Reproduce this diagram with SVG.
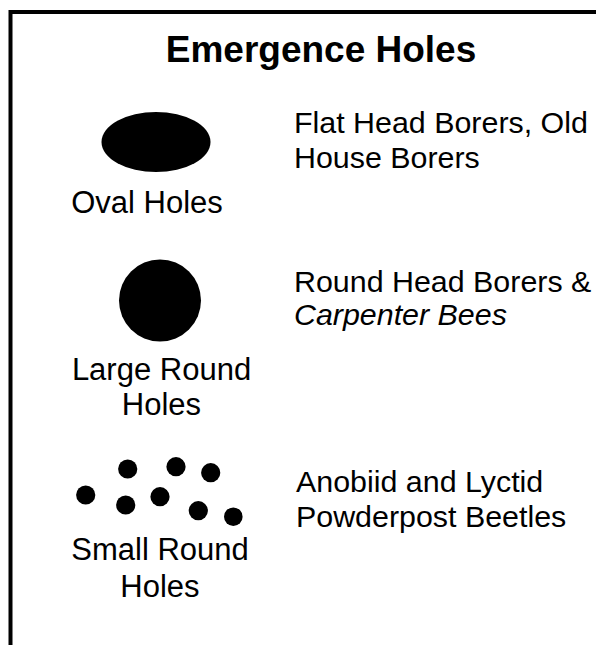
<svg xmlns="http://www.w3.org/2000/svg" width="596" height="645" viewBox="0 0 596 645">
<style>
text{font-family:"Liberation Sans",Arial,sans-serif;fill:#000}
.t{font-size:37px;font-weight:bold}
.b{font-size:30.4px}
.l{font-size:31px;text-anchor:middle}
.c{text-anchor:middle}
.hole{fill:#000}
</style>
<rect x="0" y="0" width="596" height="645" fill="#fff"/>
<path d="M10.5 645 V12 H596" fill="none" stroke="#000" stroke-width="4"/>
<text class="t c" x="321" y="62">Emergence Holes</text>
<g id="oval">
<ellipse class="hole" cx="156" cy="142" rx="54.5" ry="30"/>
<text class="l" x="147" y="213">Oval Holes</text>
<text class="b" x="294" y="133">Flat Head Borers, Old</text>
<text class="b" x="294" y="168">House Borers</text>
</g>
<g id="large">
<circle class="hole" cx="160" cy="300.5" r="41"/>
<text class="l" x="161.5" y="380">Large Round</text>
<text class="l" x="161.5" y="415">Holes</text>
<text class="b" x="294" y="291.5">Round Head Borers &amp;</text>
<text class="b" x="294" y="325" font-style="italic">Carpenter Bees</text>
</g>
<g id="small">
<circle class="hole" cx="85.7" cy="495" r="9.6"/>
<circle class="hole" cx="127.7" cy="469" r="9.6"/>
<circle class="hole" cx="125.7" cy="505" r="9.6"/>
<circle class="hole" cx="176" cy="466.7" r="9.6"/>
<circle class="hole" cx="160" cy="496.7" r="9.6"/>
<circle class="hole" cx="210.7" cy="472.7" r="9.6"/>
<circle class="hole" cx="198.3" cy="510.7" r="9.6"/>
<circle class="hole" cx="233.3" cy="516.7" r="9.3"/>
<text class="l" x="160" y="560">Small Round</text>
<text class="l" x="160" y="597">Holes</text>
<text class="b" x="296" y="491.5">Anobiid and Lyctid</text>
<text class="b" x="296" y="526.5">Powderpost Beetles</text>
</g>
<g id="connectors"/>
</svg>
